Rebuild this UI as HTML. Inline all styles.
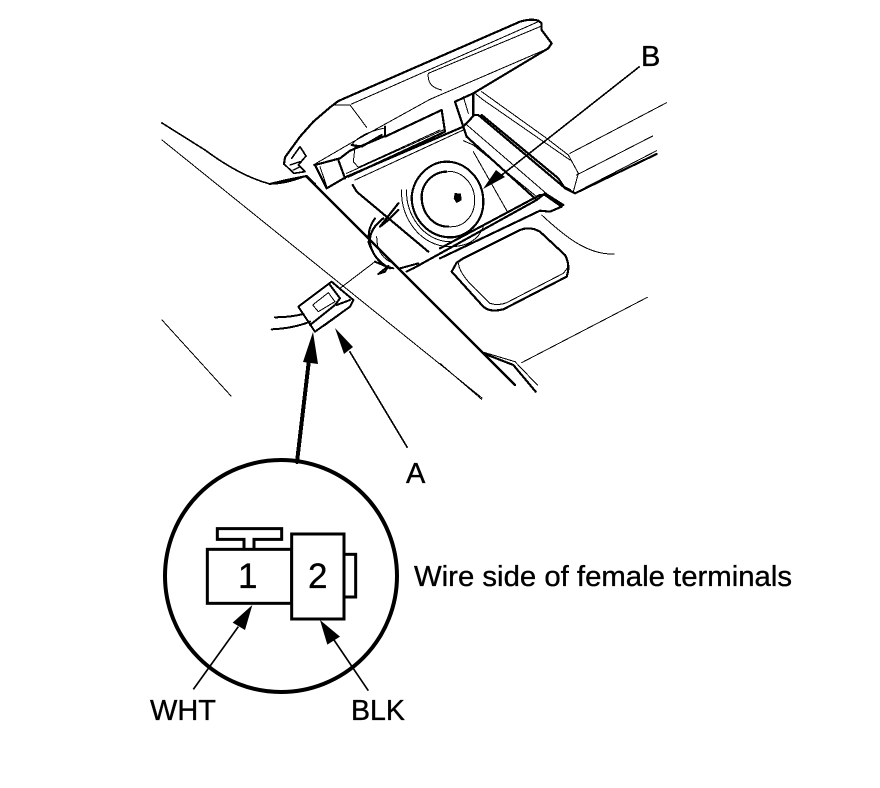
<!DOCTYPE html>
<html><head><meta charset="utf-8"><style>
html,body{margin:0;padding:0;background:#fff}
svg{display:block}
text{font-family:"Liberation Sans",sans-serif;fill:#000;stroke:#000;stroke-width:.35}
.k{fill:none;stroke:#000;stroke-linejoin:round;stroke-linecap:round;shape-rendering:crispEdges}
</style></head><body>
<svg width="880" height="788" viewBox="0 0 880 788">
<rect width="880" height="788" fill="#fff"/>

<!-- global long lines -->
<g class="k">
<path d="M162,123 L205,150 Q240,176 270,184 Q285,184 306,176" stroke-width="1.6"/>
<path d="M306,176 L515,385" stroke-width="2.2"/>
<path d="M162,140 L482,398" stroke-width="1"/>
<path d="M162,320 L231,396" stroke-width="1"/>
</g>

<!-- lid and console, zoom1 coords -->
<g class="k" transform="translate(270,30) scale(.33333)">
<g stroke-width="6.5">
<path d="M42,402 L45,382 L90,320 L130,275 L180,232 L205,213 L750,-25 Q785,-35 805,-28 L815,-20 L815,0 L845,40 L835,55 L610,190 L555,215"/>
<path d="M135,405 L170,475 L230,440 L580,290"/>
<path d="M0,462 L50,450 L110,438 L135,462"/>
<path d="M135,405 L210,385 L240,362 L345,318 L345,290"/>
<path d="M205,390 L225,445"/>
<path d="M555,215 L580,290 L590,320 L800,510"/>
<path d="M610,190 L610,258 L580,290"/>
<path d="M610,255 L625,255 L880,470 L900,480"/>
<path d="M248,465 L260,485 L475,665"/>
<path d="M42,402 L72,430 L105,425 L85,405 L108,378 L90,350 L65,385" stroke-width="5"/>
<path d="M60,405 L90,395 M70,420 L90,410" stroke-width="4"/>
<path d="M235,440 L525,305 L515,240 L345,320"/>
<path d="M430,715 L800,510 L825,490 L880,525"/>
<path d="M245,345 L275,350 L335,315" />
<!-- speaker -->
<path d="M425,500 C430,440 480,395 530,395 C590,395 640,450 640,515 C640,580 590,622 540,622 C480,622 425,570 425,500 Z"/>
<path d="M455,500 C455,460 490,425 530,425 M535,590 C490,590 455,550 455,500"/>
<path d="M555,490 L572,492 L574,510 L560,518 L552,505 Z" fill="#000" stroke-width="2"/>
<!-- clip -->
<path d="M385,520 L330,590 L355,570 L385,540"/>
<path d="M340,565 Q295,600 300,640 Q310,690 360,715"/>
</g>
<g stroke-width="3">
<path d="M245,222 L805,-25"/>
<path d="M190,225 L240,225 L290,292"/>
<path d="M810,-10 L475,130 Q470,170 515,180"/>
<path d="M130,405 L250,335 L480,208 L835,55"/>
<path d="M150,410 L172,475"/>
<path d="M255,450 L580,300"/>
<path d="M230,430 L520,300"/>
<path d="M255,350 L250,395 L265,412 L510,300"/>
<path d="M245,345 Q270,310 340,295"/>
<path d="M580,200 L595,250"/>
<path d="M615,190 L640,210 L900,390"/>
<path d="M580,332 L610,345 L800,500"/>
<path d="M610,365 L712,545"/>
<path d="M395,480 C390,560 450,650 540,650 C590,650 625,630 640,590"/>
<path d="M410,480 C405,550 460,635 540,635"/>
<path d="M535,424 C580,424 614,465 614,510 C614,560 580,594 535,590"/>
<path d="M320,620 Q320,680 370,700"/>
</g>
</g>

<!-- right side, zoom2 coords -->
<g class="k" transform="translate(440,80) scale(.33333)">
<g stroke-width="3">
<path d="M390,220 L680,68"/>
<path d="M410,285 L638,168"/>
<path d="M125,35 L320,175 L385,225 L415,280 L400,335"/>
<path d="M75,130 L365,380"/>
<path d="M305,405 C370,465 440,525 522,522"/>
<path d="M55,550 C60,590 110,630 150,670 Q175,678 200,668 L370,580 L385,560"/>
<path d="M245,848 L622,652"/>
<path d="M125,815 L225,845 L292,915"/>
<path d="M0,850 L125,958"/>
<path d="M412,335 L650,212"/>
</g>
<g stroke-width="6.5">
<path d="M125,105 L355,295 L375,325 L405,340 L650,222"/>
<path d="M0,505 L300,345 L315,345 L365,380"/>
<path d="M0,535 L300,392 L330,395 L365,380"/>
<path d="M35,575 L50,548 L70,535 L240,450 Q270,438 300,455 L375,525 Q392,555 380,590 L190,688 Q150,698 130,680 Z"/>
<path d="M130,820 L220,855 L287,935"/>
</g>
</g>

<!-- arrow B -->
<path class="k" d="M639,67 L498,178" stroke-width="1.6"/>
<polygon points="483,189 496,170 505,177" fill="#000"/>

<!-- connector A, zoom3 coords -->
<g class="k" transform="translate(260,200) scale(.33333)">
<g stroke-width="6">
<path d="M115,320 L215,245 L250,275 L280,300 L270,320 L165,395 Z"/>
<path d="M130,342 Q90,352 45,352"/>
<path d="M150,365 Q100,385 35,388"/>
<path d="M210,255 L240,295 L225,315 L150,375"/>
<path d="M230,315 L270,300"/>
<path d="M345,185 L380,200 L400,205"/>
<path d="M355,222 L385,198 L375,215 Z"/>
<path d="M325,125 Q340,170 370,195"/>
<path d="M345,55 Q320,90 328,125"/>
<path d="M420,205 L475,190 M440,215 L480,195"/>
</g>
<g stroke-width="3">
<path d="M345,185 L240,265"/>
<path d="M158,315 L205,278 L225,305 L175,335 Z"/>
<path d="M190,380 L245,340"/>
</g>
</g>

<!-- big arrow and arrow A -->
<path class="k" d="M297,462 L309,360" stroke-width="4"/>
<polygon points="313,332 318,364 303,362" fill="#000"/>
<path class="k" d="M407,447 L350,352" stroke-width="1.6"/>
<polygon points="335,328 353,347 344,354" fill="#000"/>

<!-- detail circle, zoom4 coords -->
<g transform="translate(150,450) scale(.33333)">
<circle cx="393" cy="378" r="348" fill="none" stroke="#000" stroke-width="12"/>
<g fill="#fff" stroke="#000" stroke-width="9">
<path d="M282,298 L282,268 L202,268 L202,236 L395,236 L395,268 L312,268 L312,298" />
<rect x="172" y="298" width="253" height="162"/>
<rect x="582" y="313" width="35" height="128"/>
<rect x="425" y="252" width="157" height="255"/>
</g>
<path d="M130,718 L265,530" stroke="#000" stroke-width="5" fill="none"/>
<polygon points="307,465 285,540 248,518" fill="#000"/>
<path d="M655,722 L552,570" stroke="#000" stroke-width="5" fill="none"/>
<polygon points="510,510 570,560 532,584" fill="#000"/>
</g>

<text x="238" y="588" font-size="35">1</text>
<text x="308" y="588" font-size="35">2</text>
<text x="414" y="586" font-size="29" textLength="378" lengthAdjust="spacingAndGlyphs">Wire side of female terminals</text>
<text x="150" y="720" font-size="29" textLength="66" lengthAdjust="spacingAndGlyphs">WHT</text>
<text x="351" y="720" font-size="29" textLength="54" lengthAdjust="spacingAndGlyphs">BLK</text>
<text x="406" y="483" font-size="29">A</text>
<text x="641" y="66" font-size="29">B</text>
</svg>
</body></html>
